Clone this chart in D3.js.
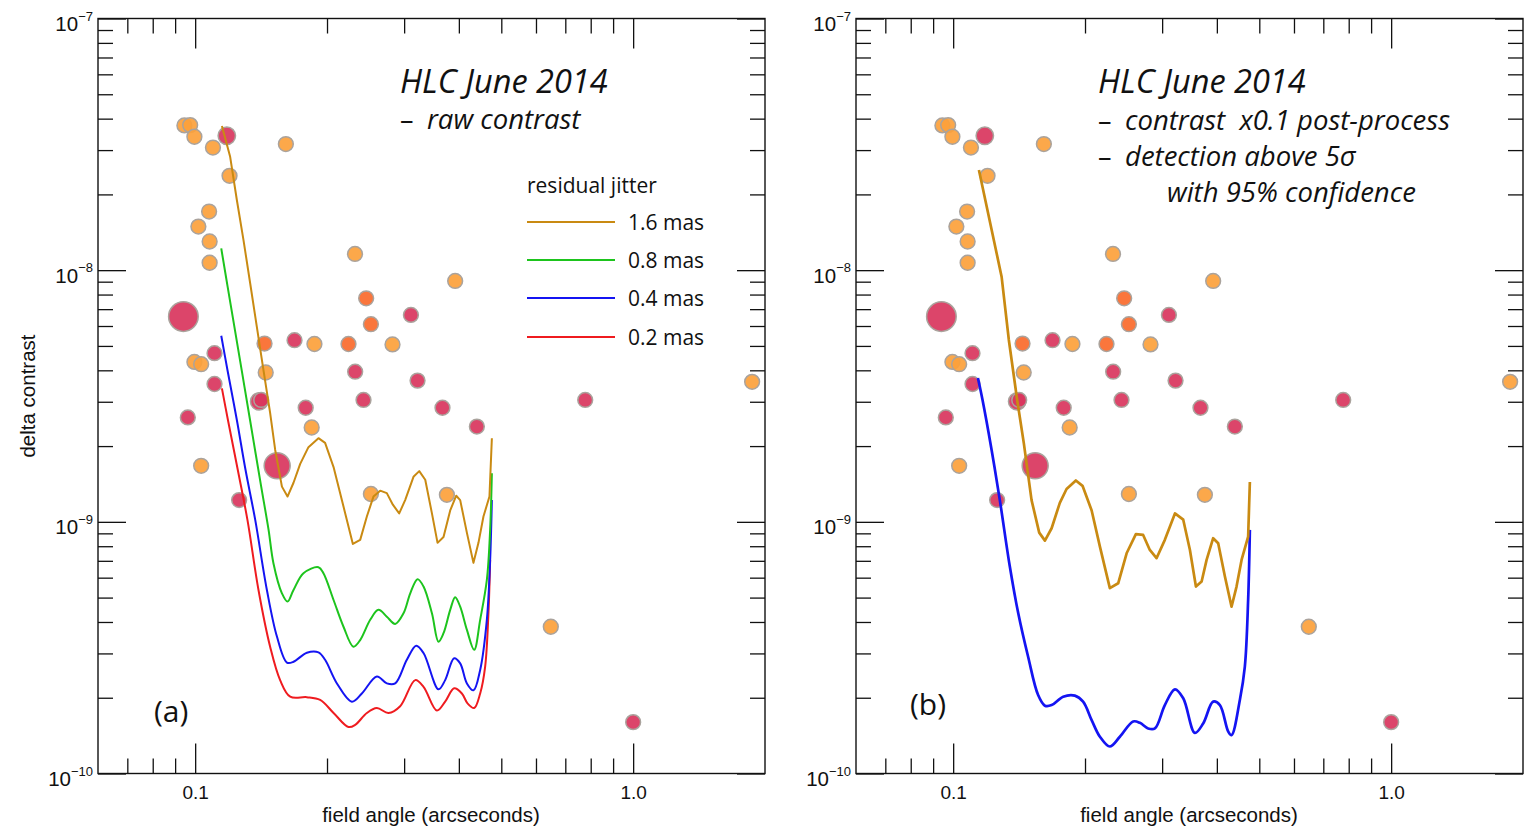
<!DOCTYPE html>
<html>
<head>
<meta charset="utf-8">
<script src="https://cdn.jsdelivr.net/npm/d3@7"></script>
<style>
body { margin: 0; background: #fff; }
svg text { font-family: "Liberation Sans", Arial, sans-serif; fill: #111; }
.myriad { font-family: "Open Sans", "Noto Sans", sans-serif; white-space: pre; }
</style>
</head>
<body>
<div id="entry"></div>
<script>
// ---- data ----
// scatter of known objects (same in both panels)
var scatterX = [0.0945,0.0974,0.0996,0.1098,0.1181,0.1611,0.1198,0.1076,0.1017,0.1079,0.1079,0.2317,0.3923,0.2457,0.3109,0.2519,0.0940,0.1440,0.1686,0.1872,0.2239,0.2822,0.1107,0.0996,0.1032,0.1449,0.2319,0.3219,0.1107,0.1400,0.1415,0.1788,0.2423,0.3670,0.0962,0.1845,0.4397,0.1032,0.1539,0.2519,0.3756,0.1260,0.7772,1.869,0.6486,1.0];
var scatterY = [3.76e-8,3.77e-8,3.39e-8,3.07e-8,3.42e-8,3.17e-8,2.37e-8,1.71e-8,1.49e-8,1.30e-8,1.07e-8,1.16e-8,9.06e-9,7.73e-9,6.64e-9,6.10e-9,6.54e-9,5.11e-9,5.27e-9,5.09e-9,5.09e-9,5.07e-9,4.68e-9,4.32e-9,4.23e-9,3.92e-9,3.95e-9,3.64e-9,3.53e-9,3.01e-9,3.05e-9,2.84e-9,3.05e-9,2.84e-9,2.60e-9,2.37e-9,2.39e-9,1.67e-9,1.67e-9,1.29e-9,1.28e-9,1.22e-9,3.05e-9,3.60e-9,3.83e-10,1.60e-10];
// o = orange, d = deep orange, r = red, rm/rl/rx = bigger red
var scatterKind = ['o','o','o','o','rm','o','o','o','o','o','o','o','o','d','r','d','rx','d','r','o','d','o','r','o','o','o','r','r','r','rm','r','r','r','r','r','o','r','o','rl','o','o','r','r','o','o','r'];

// (a) raw contrast, by residual jitter
var raw16X = [0.1151,0.1202,0.1245,0.1289,0.1335,0.1383,0.1432,0.1483,0.1523,0.1578,0.1625,0.1677,0.1737,0.1814,0.1912,0.1980,0.2070,0.2181,0.2291,0.2381,0.2466,0.2553,0.2645,0.2739,0.2827,0.2923,0.3016,0.3151,0.3248,0.3352,0.3472,0.3576,0.3690,0.3822,0.3945,0.4028,0.4173,0.4319,0.4434,0.4552,0.4698,0.4758];
var raw16Y = [3.74e-8,2.82e-8,1.90e-8,1.32e-8,8.89e-9,5.95e-9,4.01e-9,2.71e-9,1.93e-9,1.38e-9,1.26e-9,1.43e-9,1.70e-9,1.98e-9,2.15e-9,2.06e-9,1.65e-9,1.15e-9,8.17e-10,8.48e-10,1.05e-9,1.26e-9,1.33e-9,1.30e-9,1.17e-9,1.08e-9,1.22e-9,1.51e-9,1.59e-9,1.47e-9,1.08e-9,8.25e-10,8.71e-10,1.11e-9,1.27e-9,1.22e-9,9.04e-10,6.87e-10,8.25e-10,1.05e-9,1.26e-9,2.15e-9];

var raw08X = [0.1147,0.1186,0.1258,0.1296,0.1354,0.1415,0.1471,0.1509,0.1578,0.1625,0.1677,0.1767,0.1912,0.1963,0.2070,0.2181,0.2298,0.2381,0.2510,0.2621,0.2739,0.2862,0.2990,0.3098,0.3219,0.3322,0.3472,0.3594,0.3690,0.3822,0.3923,0.4028,0.4173,0.4335,0.4474,0.4634,0.4715,0.4758];
var raw08Y = [1.22e-8,8.60e-9,4.68e-9,3.44e-9,2.18e-9,1.38e-9,9.29e-10,6.85e-10,5.20e-10,4.82e-10,5.36e-10,6.25e-10,6.60e-10,6.25e-10,4.89e-10,3.83e-10,3.19e-10,3.39e-10,4.08e-10,4.47e-10,4.20e-10,3.93e-10,4.33e-10,5.20e-10,5.92e-10,5.53e-10,4.33e-10,3.34e-10,3.61e-10,4.47e-10,5.02e-10,4.60e-10,3.72e-10,3.10e-10,4.08e-10,5.88e-10,9.29e-10,1.56e-9];

var raw04X = [0.1147,0.1185,0.1245,0.1303,0.1371,0.1458,0.1537,0.1620,0.1677,0.1799,0.1912,0.1980,0.2107,0.2279,0.2402,0.2599,0.2739,0.2862,0.3043,0.3197,0.3322,0.3594,0.3722,0.3902,0.4028,0.4173,0.4319,0.4474,0.4634,0.4715,0.4758];
var raw04Y = [5.49e-9,4.01e-9,2.54e-9,1.61e-9,1.02e-9,5.36e-10,3.50e-10,2.76e-10,2.78e-10,3.02e-10,3.03e-10,2.83e-10,2.28e-10,1.93e-10,2.08e-10,2.43e-10,2.28e-10,2.28e-10,2.83e-10,3.22e-10,3.01e-10,2.16e-10,2.35e-10,2.87e-10,2.74e-10,2.28e-10,2.14e-10,2.58e-10,4.08e-10,7.06e-10,1.22e-9];

var raw02X = [0.1151,0.1188,0.1251,0.1316,0.1395,0.1483,0.1563,0.1648,0.1799,0.1929,0.2070,0.2239,0.2319,0.2466,0.2599,0.2763,0.2938,0.3180,0.3322,0.3564,0.3722,0.3902,0.4064,0.4186,0.4335,0.4474,0.4593,0.4673,0.4715];
var raw02Y = [3.39e-9,2.54e-9,1.61e-9,1.02e-9,5.36e-10,3.19e-10,2.35e-10,2.02e-10,2.01e-10,1.96e-10,1.74e-10,1.53e-10,1.56e-10,1.74e-10,1.82e-10,1.74e-10,1.85e-10,2.35e-10,2.21e-10,1.78e-10,1.93e-10,2.18e-10,2.08e-10,1.90e-10,1.82e-10,2.08e-10,2.66e-10,4.33e-10,7.06e-10];

// (b) post-processed, 5 sigma detection
var post16X = [0.1145,0.1290,0.1340,0.1400,0.1450,0.1510,0.1572,0.1620,0.1678,0.1752,0.1815,0.1906,0.1974,0.2071,0.2163,0.2279,0.2381,0.2489,0.2613,0.2715,0.2812,0.2913,0.3043,0.3209,0.3352,0.3472,0.3583,0.3692,0.3790,0.3923,0.4028,0.4173,0.4321,0.4436,0.4555,0.4715,0.4758];
var post16Y = [2.50e-8,9.42e-9,5.28e-9,3.05e-9,2.05e-9,1.22e-9,9.06e-10,8.42e-10,9.43e-10,1.19e-9,1.35e-9,1.46e-9,1.39e-9,1.11e-9,7.97e-10,5.45e-10,5.70e-10,7.50e-10,8.93e-10,8.87e-10,7.73e-10,7.17e-10,8.48e-10,1.08e-9,1.02e-9,7.73e-10,5.53e-10,5.79e-10,7.06e-10,8.61e-10,8.22e-10,6.06e-10,4.60e-10,5.53e-10,7.06e-10,8.74e-10,1.44e-9];

var post04X = [0.1139,0.1167,0.1224,0.1278,0.1347,0.1408,0.1483,0.1563,0.1620,0.1678,0.1783,0.1896,0.1980,0.2071,0.2163,0.2279,0.2402,0.2576,0.2668,0.2787,0.2888,0.3043,0.3209,0.3352,0.3564,0.3722,0.3923,0.4064,0.4245,0.4321,0.4514,0.4634,0.4715,0.4758];
var post04Y = [3.73e-9,3.05e-9,1.93e-9,1.22e-9,6.64e-10,4.33e-10,2.91e-10,2.05e-10,1.86e-10,1.87e-10,2.02e-10,2.04e-10,1.93e-10,1.63e-10,1.40e-10,1.28e-10,1.40e-10,1.61e-10,1.59e-10,1.51e-10,1.51e-10,1.87e-10,2.16e-10,1.99e-10,1.45e-10,1.58e-10,1.93e-10,1.87e-10,1.47e-10,1.42e-10,1.96e-10,2.66e-10,4.89e-10,9.29e-10];

var legendLabels = ['1.6 mas', '0.8 mas', '0.4 mas', '0.2 mas'];
var xTickValues = [0.1, 1.0];
var xTickLabels = ['0.1', '1.0'];
var yExponents = [-7, -8, -9, -10];

// ---- layout ----
var W = 667, H = 755, TOP = 18.5;
var colors = {g16: '#c98a12', g08: '#1dc41d', g04: '#1414f2', g02: '#ef1b1f'};
var markFill = {o: '#fca13b', d: '#fa6a2b', r: '#d9355d', rm: '#d9355d', rl: '#d9355d', rx: '#d9355d'};
var markR = {o: 7.4, d: 7.4, r: 7.4, rm: 8.7, rl: 13, rx: 14.8};

var svg = d3.select('#entry').append('svg')
  .attr('width', 1537).attr('height', 829);

function pairs(xs, ys) { return xs.map(function(v, i) { return [v, ys[i]]; }); }

function drawPanel(left, series, lineWidth) {
  var g = svg.append('g').attr('transform', 'translate(' + left + ',' + TOP + ')');

  var x = d3.scaleLog().domain([0.06, 2.0]).range([0, W]);
  var y = d3.scaleLog().domain([1e-10, 1e-7]).range([H, 0]);

  var xt = x.ticks().filter(function(t) { return t > 0.061 && t <= 1.0001; });
  var xMinor = xt.filter(function(t) { return xTickValues.indexOf(+t.toPrecision(3)) < 0; });
  var yt = y.ticks();
  var yMajor = yExponents.map(function(e) { return Math.pow(10, e); });
  var yMinor = yt.filter(function(t) { var m = t / Math.pow(10, Math.floor(Math.log10(t) + 1e-9)); return Math.abs(m - 1) > 1e-6; });

  function axisG(axis, tr) {
    var a = g.append('g').attr('transform', tr || null).call(axis);
    a.select('.domain').remove();
    a.selectAll('line').attr('stroke', '#111').attr('stroke-width', 1.3);
    return a;
  }
  // inward ticks on all four sides
  axisG(d3.axisBottom(x).tickValues(xMinor).tickSize(-15).tickFormat(''), 'translate(0,' + H + ')');
  var xb = axisG(d3.axisBottom(x).tickValues(xTickValues).tickSize(-30).tickPadding(12)
    .tickFormat(function(d, i) { return xTickLabels[i]; }), 'translate(0,' + H + ')');
  xb.selectAll('text').attr('font-size', 19).attr('font-family', '"Liberation Sans", Arial, sans-serif').attr('fill', '#111');
  axisG(d3.axisTop(x).tickValues(xMinor).tickSize(-15).tickFormat(''));
  axisG(d3.axisTop(x).tickValues(xTickValues).tickSize(-30).tickFormat(''));
  axisG(d3.axisLeft(y).tickValues(yMinor).tickSize(-15).tickFormat(''));
  axisG(d3.axisLeft(y).tickValues(yMajor).tickSize(-28).tickFormat(''));
  axisG(d3.axisRight(y).tickValues(yMinor).tickSize(-15).tickFormat(''), 'translate(' + W + ',0)');
  axisG(d3.axisRight(y).tickValues(yMajor).tickSize(-28).tickFormat(''), 'translate(' + W + ',0)');

  g.append('rect').attr('width', W).attr('height', H)
    .attr('fill', 'none').attr('stroke', '#111').attr('stroke-width', 1.4);

  // y labels 10^n
  yExponents.forEach(function(e) {
    var t = g.append('text').attr('x', -5).attr('y', y(Math.pow(10, e)) + 12.5)
      .attr('text-anchor', 'end').attr('font-size', 20.5);
    t.append('tspan').text('10');
    t.append('tspan').attr('dy', -10.5).attr('font-size', 13).text('\u2212' + (-e));
  });

  // scatter
  g.append('g').selectAll('circle')
    .data(d3.range(scatterX.length))
    .join('circle')
    .attr('cx', function(i) { return x(scatterX[i]); })
    .attr('cy', function(i) { return y(scatterY[i]); })
    .attr('r', function(i) { return markR[scatterKind[i]]; })
    .attr('fill', function(i) { return markFill[scatterKind[i]]; })
    .attr('fill-opacity', 0.92)
    .attr('stroke', '#aaa39d')
    .attr('stroke-width', 1.5);

  // curves
  series.forEach(function(s) {
    var line = d3.line()
      .x(function(d) { return x(d[0]); })
      .y(function(d) { return y(d[1]); })
      .curve(s.smooth ? d3.curveCatmullRom.alpha(0.5) : d3.curveLinear);
    g.append('path').datum(pairs(s.xs, s.ys))
      .attr('d', line)
      .attr('fill', 'none')
      .attr('stroke', s.color)
      .attr('stroke-width', lineWidth)
      .attr('stroke-linejoin', 'round');
  });
  return g;
}

drawPanel(98, [
  {xs: raw02X, ys: raw02Y, color: colors.g02, smooth: true},
  {xs: raw04X, ys: raw04Y, color: colors.g04, smooth: true},
  {xs: raw08X, ys: raw08Y, color: colors.g08, smooth: true},
  {xs: raw16X, ys: raw16Y, color: colors.g16, smooth: false}
], 2);

drawPanel(856, [
  {xs: post04X, ys: post04Y, color: colors.g04, smooth: true},
  {xs: post16X, ys: post16Y, color: colors.g16, smooth: false}
], 2.7);

// axis titles
svg.append('text').attr('x', 431).attr('y', 822).attr('text-anchor', 'middle')
  .attr('font-size', 20.5).text('field angle (arcseconds)');
svg.append('text').attr('x', 1189).attr('y', 822).attr('text-anchor', 'middle')
  .attr('font-size', 20.5).text('field angle (arcseconds)');
svg.append('text').attr('transform', 'translate(35,396) rotate(-90)').attr('text-anchor', 'middle')
  .attr('font-size', 20.5).text('delta contrast');

// annotations (a)
function note(xp, yp, size, txt, italic) {
  return svg.append('text').attr('class', 'myriad').attr('x', xp).attr('y', yp)
    .attr('font-size', size).attr('font-style', italic ? 'italic' : 'normal').text(txt);
}
note(400, 93, 32.5, 'HLC June 2014', true);
note(400, 129, 27, '\u2013', false);
note(427, 129, 27.5, 'raw contrast', true);
note(527, 193, 21, 'residual jitter', false);

var legY = [222, 260, 298, 337];
var legC = [colors.g16, colors.g08, colors.g04, colors.g02];
legendLabels.forEach(function(l, i) {
  svg.append('line').attr('x1', 527).attr('x2', 615).attr('y1', legY[i]).attr('y2', legY[i])
    .attr('stroke', legC[i]).attr('stroke-width', 2.2);
  note(628, legY[i] + 7.5, 21, l, false);
});
note(154, 722, 30, '(a)', false);

// annotations (b)
note(1098, 93, 32.5, 'HLC June 2014', true);
note(1098, 130, 27, '\u2013', false);
note(1125, 130, 27.5, 'contrast  x0.1 post-process', true);
note(1098, 166, 27, '\u2013', false);
note(1125, 166, 27.5, 'detection above 5\u03c3', true);
note(1167, 202, 27.5, 'with 95% confidence', true);
note(910, 715, 30, '(b)', false);
</script>
</body>
</html>
